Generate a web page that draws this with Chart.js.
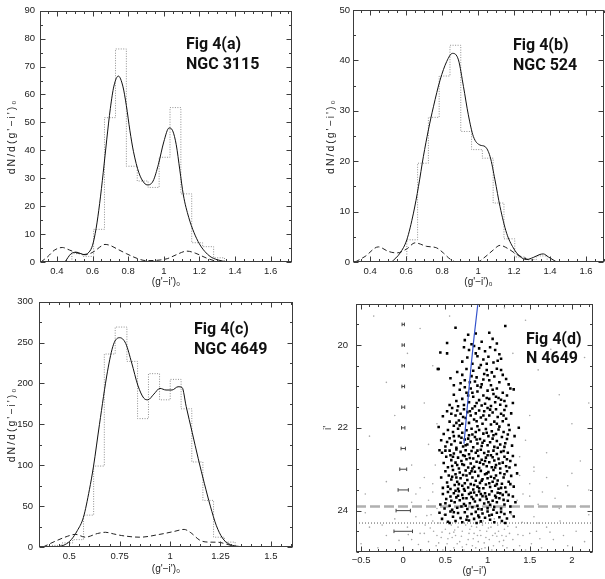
<!DOCTYPE html>
<html>
<head>
<meta charset="utf-8">
<script src="https://cdn.jsdelivr.net/npm/chart.js@4.4.0/dist/chart.umd.min.js"></script>
<style>
  body { margin: 0; background: #fff; }
  canvas { position: absolute; }
</style>
</head>
<body>
<canvas id="pa" width="300" height="290" style="left:0;top:0"></canvas>
<canvas id="pb" width="305" height="290" style="left:300px;top:0"></canvas>
<canvas id="pc" width="300" height="289" style="left:0;top:290px"></canvas>
<canvas id="pd" width="305" height="289" style="left:300px;top:290px"></canvas>
<script>
// ---- Fig 4(a) NGC 3115: histogram (bin edges + counts), smoothed curve, dashed curve
const edgesA = [0.484, 0.545, 0.606, 0.667, 0.729, 0.790, 0.851, 0.912, 0.974, 1.035, 1.096, 1.157, 1.218, 1.280, 1.341];
const histA = [3, 2, 11.7, 51.7, 76.3, 34.3, 29, 26.7, 37.5, 55.3, 24.4, 6.9, 5.5, 1.5];
const solidA = [[0.445,0],[0.48,3.0],[0.51,3.5],[0.55,2.7],[0.58,3.5],[0.60,6],[0.62,12],[0.64,21],[0.66,32],[0.68,44],
  [0.70,55],[0.72,63],[0.745,66.6],[0.77,63],[0.79,56],[0.81,47],[0.83,39.5],[0.86,32],[0.89,28.3],[0.91,27.6],
  [0.94,29],[0.97,35],[1.0,43],[1.03,48],[1.05,47],[1.07,42],[1.09,33],[1.11,24],[1.14,16],[1.17,10.5],
  [1.2,6.5],[1.23,3.8],[1.26,2],[1.3,0.8],[1.36,0]];
const dashA = [[0.31,0],[0.35,2],[0.385,4.2],[0.43,5.2],[0.47,4.3],[0.52,3.1],[0.56,2.6],[0.61,3.8],[0.64,5.3],[0.67,6.3],
  [0.70,5.9],[0.74,4.6],[0.79,3],[0.85,1.3],[0.9,0.5],[0.96,0.6],[1.02,1.2],[1.07,2.6],[1.13,3.9],[1.18,3.1],
  [1.24,1.4],[1.3,0.2],[1.33,0]];

// ---- Fig 4(b) NGC 524
const edgesB = [0.604, 0.664, 0.724, 0.784, 0.844, 0.904, 0.964, 1.024, 1.084, 1.144, 1.204, 1.264, 1.324, 1.384];
const histB = [4.4, 19.6, 28.7, 36.9, 43.0, 25.9, 22.3, 20.6, 11.7, 4.6, 1.0, 0.5, 1.2];
const solidB = [[0.52,0],[0.567,1.8],[0.604,4.4],[0.641,9.7],[0.669,15],[0.696,20.9],[0.724,26.2],[0.752,30.8],[0.789,36.1],
  [0.826,39.8],[0.858,41.4],[0.891,40.1],[0.919,34.8],[0.946,29.2],[0.974,24.9],[1.011,23.2],[1.039,22.9],[1.067,20.9],
  [1.094,16.3],[1.122,11],[1.159,5.7],[1.196,2.8],[1.233,1.1],[1.27,0.5],[1.307,0.9],[1.344,1.5],[1.363,1.6],[1.391,1.0],[1.437,0]];
const dashB = [[0.317,0],[0.372,1.1],[0.446,3.0],[0.502,2.1],[0.548,1.8],[0.604,2.6],[0.65,3.8],[0.715,3.1],[0.77,2.8],
  [0.807,1.8],[0.844,0.6],[0.881,0],[0.993,0],[1.039,1.0],[1.085,2.4],[1.122,3.3],[1.169,2.6],[1.215,1.5],[1.27,0.6],
  [1.307,0.1],[1.326,0]];

// ---- Fig 4(c) NGC 4649
const edgesC = [0.410, 0.464, 0.517, 0.571, 0.621, 0.674, 0.728, 0.786, 0.839, 0.893, 0.948, 1.001, 1.055, 1.108, 1.163, 1.216, 1.270, 1.323];
const histC = [2, 5, 9, 39, 99, 236, 269, 227, 157, 212, 180, 205, 169, 104, 57, 12, 6];
const solidC = [[0.44,0],[0.48,3],[0.51,9],[0.54,20],[0.57,36],[0.60,70],[0.62,98],[0.65,150],[0.69,215],[0.72,248],
  [0.75,256],[0.78,249],[0.81,225],[0.84,198],[0.87,182],[0.89,180],[0.92,187],[0.95,194],[0.98,192],[1.01,192],
  [1.04,196],[1.06,195],[1.08,172],[1.11,140],[1.14,108],[1.17,78],[1.20,50],[1.23,26],[1.26,11],[1.29,4],[1.33,1],[1.38,0]];
const dashC = [[0.37,0],[0.43,7],[0.49,13],[0.53,15.5],[0.58,12],[0.64,16.5],[0.68,18],[0.72,16],[0.76,14],[0.85,12],
  [0.95,15.5],[1.02,19],[1.07,21.5],[1.1,18],[1.15,8],[1.19,6],[1.24,5.8],[1.28,3.5],[1.32,0.8],[1.35,0]];

// ---- Fig 4(d) N 4649 colour-magnitude diagram: [g'-i', i']
const brightGC = [
  [0.62,19.58],[1.21,19.54],[0.77,19.75],[0.86,19.72],[1.02,19.7],[0.52,19.95],[0.73,19.88],[0.93,19.92],[1.06,19.85],[0.81,19.98],[1.11,19.96],
  [0.44,20.18],[0.52,20.2],[0.72,20.05],[0.78,20.12],[0.84,20.02],[0.9,20.08],[0.97,20.15],[1.03,20.05],[1.09,20.12],[1.14,20.22],[0.76,20.3],
  [0.88,20.27],[0.95,20.35],[1.01,20.28],[1.07,20.42],[0.82,20.45],[0.7,20.4],[0.92,20.48],[1.12,20.38],[0.99,20.45],[1.16,20.33],[0.86,20.2],
  [0.42,20.58],[0.56,20.8],[0.64,20.65],[0.7,20.72],[0.75,20.58],[0.79,20.9],[0.83,20.62],[0.87,20.78],[0.9,20.55],[0.93,20.95],[0.96,20.7],
  [0.99,20.6],[1.02,20.85],[1.05,20.66],[1.08,20.76],[1.11,20.57],[1.14,20.9],[1.18,20.72],[1.22,20.82],[0.68,20.92],[0.81,20.75],[0.95,20.83],
  [1.04,20.97],[0.73,20.85],[0.88,20.98],[1.16,20.6],[0.6,20.97],[1.0,20.73],[0.85,20.88],[1.25,20.95],
  [0.55,21.45],[0.6,21.2],[0.63,21.35],[0.67,21.08],[0.7,21.3],[0.72,21.45],[0.75,21.15],[0.78,21.38],[0.8,21.05],[0.83,21.25],[0.85,21.48],
  [0.88,21.12],[0.9,21.33],[0.92,21.02],[0.95,21.22],[0.97,21.42],[1.0,21.1],[1.02,21.3],[1.04,21.47],[1.07,21.18],[1.09,21.38],[1.11,21.05],
  [1.13,21.28],[1.15,21.44],[1.18,21.15],[1.2,21.35],[1.23,21.22],[1.27,21.05],[1.3,21.4],[0.65,21.48],[0.77,21.22],[0.87,21.4],[0.99,21.28],
  [1.06,21.08],[1.16,21.32],[0.73,21.02],[0.93,21.46],[1.22,21.47],[0.82,21.15],[1.1,21.25],
  [0.42,21.98],[0.47,21.72],[0.52,21.6],[0.55,21.85],[0.58,21.52],[0.6,21.95],[0.62,21.7],[0.64,21.58],[0.66,21.82],[0.68,21.66],[0.7,21.9],
  [0.72,21.55],[0.74,21.76],[0.76,21.62],[0.78,21.88],[0.8,21.7],[0.82,21.53],[0.84,21.8],[0.86,21.65],[0.88,21.96],[0.9,21.58],[0.92,21.75],
  [0.94,21.9],[0.96,21.6],[0.98,21.8],[1.0,21.52],[1.02,21.7],[1.04,21.92],[1.06,21.63],[1.08,21.85],[1.1,21.55],[1.12,21.74],[1.14,21.97],
  [1.16,21.66],[1.18,21.84],[1.2,21.57],[1.22,21.78],[1.25,21.93],[1.28,21.65],[1.37,22.0],[0.63,21.88],[0.71,21.74],[0.79,21.6],[0.87,21.84],
  [0.95,21.7],[1.03,21.56],[1.11,21.9],[1.19,21.7],[0.57,21.66],[0.67,21.94],
  [0.45,22.3],[0.48,22.15],[0.5,22.45],[0.53,22.05],[0.55,22.25],[0.57,22.4],[0.59,22.1],[0.61,22.32],[0.63,22.48],[0.65,22.02],[0.66,22.2],
  [0.68,22.36],[0.7,22.12],[0.71,22.45],[0.73,22.28],[0.75,22.06],[0.76,22.4],[0.78,22.18],[0.8,22.33],[0.81,22.02],[0.83,22.47],[0.85,22.22],
  [0.86,22.1],[0.88,22.38],[0.9,22.05],[0.91,22.27],[0.93,22.44],[0.95,22.14],[0.96,22.31],[0.98,22.03],[1.0,22.42],[1.01,22.2],[1.03,22.35],
  [1.05,22.08],[1.06,22.26],[1.08,22.46],[1.1,22.15],[1.11,22.32],[1.13,22.04],[1.15,22.4],[1.17,22.22],[1.19,22.1],[1.21,22.37],[1.23,22.27],
  [1.26,22.05],[1.29,22.43],[1.32,22.2],[0.6,22.2],[0.74,22.42],[0.87,22.28],[0.99,22.12],[1.12,22.48],[1.24,22.16],[0.52,22.34],[0.69,22.24],
  [0.82,22.16],[0.94,22.36],[1.07,22.18],[1.2,22.46],[0.77,22.26],[0.43,22.54],
  [0.46,22.6],[0.48,22.85],[0.51,22.7],[0.53,22.95],[0.55,22.55],[0.57,22.78],[0.58,22.92],[0.6,22.62],[0.62,22.84],[0.63,22.52],[0.65,22.72],
  [0.66,22.98],[0.68,22.58],[0.69,22.8],[0.71,22.66],[0.72,22.9],[0.74,22.54],[0.75,22.76],[0.77,22.96],[0.78,22.64],[0.8,22.86],[0.81,22.56],
  [0.83,22.74],[0.84,22.94],[0.86,22.6],[0.87,22.82],[0.89,22.68],[0.9,22.97],[0.92,22.53],[0.93,22.77],[0.95,22.88],[0.96,22.61],[0.98,22.72],
  [0.99,22.93],[1.01,22.57],[1.02,22.83],[1.04,22.66],[1.05,22.95],[1.07,22.55],[1.08,22.79],[1.1,22.9],[1.11,22.63],[1.13,22.75],[1.15,22.98],
  [1.16,22.58],[1.18,22.84],[1.2,22.7],[1.22,22.93],[1.24,22.6],[1.27,22.8],[1.3,22.68],[1.33,22.9],[0.59,22.7],[0.7,22.88],[0.79,22.73],
  [0.88,22.55],[0.97,22.8],[1.06,22.71],[1.14,22.86],[1.23,22.76],[0.64,22.9],[0.73,22.68],[0.82,22.98],[0.91,22.84],[1.0,22.66],[1.09,22.96],
  [1.19,22.56],[0.5,22.55],[0.56,22.66],[1.26,22.96],
  [0.45,23.2],[0.47,23.45],[0.5,23.05],[0.52,23.32],[0.54,23.15],[0.56,23.48],[0.57,23.25],[0.59,23.02],[0.61,23.38],[0.62,23.12],[0.64,23.3],
  [0.65,23.47],[0.67,23.08],[0.68,23.22],[0.7,23.4],[0.71,23.14],[0.73,23.34],[0.74,23.03],[0.76,23.26],[0.77,23.44],[0.79,23.1],[0.8,23.36],
  [0.82,23.2],[0.83,23.49],[0.85,23.06],[0.86,23.28],[0.88,23.42],[0.89,23.16],[0.91,23.33],[0.92,23.04],[0.94,23.24],[0.95,23.46],[0.97,23.12],
  [0.98,23.37],[1.0,23.22],[1.01,23.07],[1.03,23.43],[1.04,23.18],[1.06,23.3],[1.07,23.02],[1.09,23.4],[1.1,23.15],[1.12,23.27],[1.13,23.47],
  [1.15,23.09],[1.17,23.35],[1.19,23.2],[1.21,23.44],[1.23,23.05],[1.25,23.3],[1.28,23.16],[1.31,23.42],[1.35,23.1],[0.58,23.18],[0.66,23.36],
  [0.75,23.15],[0.84,23.38],[0.93,23.28],[1.02,23.34],[1.11,23.36],[1.2,23.12],[0.53,23.42],[0.63,23.2],[0.72,23.48],[0.81,23.05],[0.9,23.46],
  [0.99,23.1],[1.08,23.22],[1.16,23.45],[1.27,23.36],
  [0.44,23.85],[0.47,23.6],[0.49,23.95],[0.51,23.72],[0.53,23.55],[0.55,23.88],[0.56,23.66],[0.58,23.98],[0.6,23.58],[0.61,23.8],[0.63,23.68],
  [0.64,23.93],[0.66,23.53],[0.67,23.75],[0.69,23.9],[0.7,23.62],[0.72,23.84],[0.73,23.52],[0.75,23.7],[0.76,23.96],[0.78,23.6],[0.79,23.82],
  [0.81,23.67],[0.82,23.92],[0.84,23.56],[0.85,23.78],[0.87,23.63],[0.88,23.88],[0.9,23.54],[0.91,23.74],[0.93,23.97],[0.94,23.65],[0.96,23.83],
  [0.97,23.58],[0.99,23.72],[1.0,23.94],[1.02,23.61],[1.03,23.86],[1.05,23.53],[1.06,23.76],[1.08,23.91],[1.09,23.64],[1.11,23.8],[1.12,23.57],
  [1.14,23.7],[1.16,23.95],[1.18,23.62],[1.2,23.85],[1.22,23.55],[1.24,23.76],[1.27,23.9],[1.3,23.66],[1.33,23.8],[0.57,23.76],[0.65,23.64],
  [0.74,23.88],[0.83,23.72],[0.92,23.6],[1.01,23.8],[1.1,23.68],[1.19,23.74],[0.62,23.52],[0.71,23.7],[0.8,23.57],[0.89,23.96],[0.98,23.66],
  [1.07,23.98],[1.15,23.58],[1.25,23.62],[0.5,23.82],
  [0.43,24.05],[0.46,24.2],[0.5,24.1],[0.53,24.27],[0.56,24.02],[0.59,24.15],[0.62,24.25],[0.65,24.06],[0.68,24.18],[0.7,24.28],[0.73,24.04],
  [0.76,24.14],[0.78,24.24],[0.81,24.08],[0.84,24.2],[0.86,24.03],[0.89,24.12],[0.92,24.26],[0.94,24.07],[0.97,24.17],[1.0,24.02],[1.03,24.22],
  [1.05,24.1],[1.08,24.28],[1.11,24.05],[1.14,24.16],[1.17,24.25],[1.2,24.08],[1.23,24.19],[1.27,24.04],[1.31,24.14],[0.6,24.04],[0.75,24.22],
  [0.9,24.16],[1.02,24.12],[1.16,24.03],[0.55,24.3],[0.87,24.3],[1.21,24.3],[0.41,20.58],[1.31,21.07]
];
const faintSrc = [
  [-0.35,19.3],[0.2,19.6],[1.45,19.4],[1.9,19.8],[2.15,20.3],[0.35,20.5],[-0.2,20.9],[1.6,20.6],[1.85,21.2],[0.25,21.4],
  [1.5,21.7],[2.0,21.9],[-0.4,22.2],[0.3,22.4],[1.45,22.3],[1.7,22.6],[2.1,22.8],[0.1,22.9],[0.38,22.9],[1.38,22.7],
  [-0.1,21.7],[0.55,19.3],[1.2,19.1],[1.75,20.1],[2.2,21.4],[0.05,20.2],[1.3,20.2],[0.4,21.9],[1.55,22.95],
  [-0.45,23.6],[-0.2,23.3],[0.1,23.8],[0.25,23.2],[0.35,23.55],[0.4,23.95],[1.38,23.15],[1.42,23.6],[1.5,23.35],[1.6,23.85],
  [1.7,23.2],[1.8,23.7],[1.95,23.4],[2.1,23.9],[2.2,23.5],[0.3,23.75],[1.55,23.05],[1.45,23.9],[0.2,23.45],[1.65,23.55],[2.0,23.1],
  [-0.5,24.8],[-0.4,24.4],[-0.3,24.9],[-0.2,24.6],[-0.1,24.2],[0.0,24.9],[0.05,24.4],[0.1,24.7],[0.15,24.15],[0.2,24.55],
  [0.22,24.95],[0.26,24.35],[0.3,24.75],[0.33,24.1],[0.36,24.5],[0.39,24.85],[0.42,24.3],[0.45,24.65],[0.47,24.95],[0.5,24.45],
  [0.52,24.8],[0.55,24.55],[0.57,24.35],[0.6,24.9],[0.62,24.6],[0.65,24.4],[0.67,24.75],[0.7,24.5],[0.72,24.95],[0.74,24.35],
  [0.77,24.7],[0.79,24.45],[0.82,24.85],[0.84,24.55],[0.87,24.4],[0.89,24.75],[0.92,24.6],[0.94,24.35],[0.97,24.9],[0.99,24.5],
  [1.02,24.7],[1.04,24.4],[1.07,24.85],[1.09,24.55],[1.12,24.35],[1.14,24.75],[1.17,24.6],[1.2,24.45],[1.23,24.9],[1.26,24.55],
  [1.3,24.7],[1.34,24.4],[1.38,24.85],[1.42,24.6],[1.47,24.3],[1.52,24.8],[1.58,24.5],[1.64,24.9],[1.7,24.4],[1.78,24.7],
  [1.86,24.25],[1.95,24.85],[2.05,24.5],[2.15,24.75],[0.48,24.1],[0.68,24.2],[0.88,24.15],[1.08,24.2],[1.28,24.1],[0.58,24.65],
  [0.78,24.55],[0.98,24.65],[1.18,24.85],[0.4,24.6],[0.64,24.8],[0.86,24.9],[1.06,24.6],[1.32,24.95],[0.25,24.55],[0.12,24.95],
  [1.55,24.15],[1.9,24.6],[2.2,24.1],[-0.45,24.05],[0.35,24.25],[0.95,24.25],[1.15,24.15],[1.45,24.95],
  [0.32,24.42],[0.46,24.52],[0.53,24.68],[0.61,24.47],[0.69,24.62],[0.75,24.82],[0.81,24.38],[0.91,24.48],[0.96,24.78],[1.01,24.42],
  [1.11,24.62],[1.19,24.72],[1.24,24.38],[1.36,24.58],[1.41,24.28],[1.5,24.55],[1.62,24.68],[1.74,24.52],[0.18,24.82],[0.06,24.58],
  [-0.05,24.72],[-0.25,24.35],[0.28,24.98],[0.56,24.97],[0.83,24.68],[1.05,24.95],[1.22,24.62],[0.42,24.78],[0.7,24.88],[0.93,24.92],
  [1.5,23.65],[1.35,23.75],[0.35,23.35],[0.28,24.12],[1.6,24.3],[0.15,23.6],[1.85,23.95],[0.6,24.52],[1.13,24.5],[0.88,24.6]
];
const fitLine = [[0.72,22.38],[0.755,21.6],[0.80,20.6],[0.84,19.8],[0.885,19.0]];
const errMag = [19.5, 20, 20.5, 21, 21.5, 22, 22.5, 23, 23.5, 24, 24.5];
const errHalf = [0.014, 0.014, 0.015, 0.016, 0.018, 0.02, 0.026, 0.041, 0.061, 0.085, 0.11];
const limitDashed = 23.9;
const limitDotted = 24.3;

// axis ranges and tick labels
const xRangeA = [0.305, 1.72], xRangeB = [0.305, 1.7], xRangeC = [0.35, 1.61], xRangeD = [-0.56, 2.25];
const xLabelsAB = [0.4, 0.6, 0.8, 1, 1.2, 1.4, 1.6];
const xLabelsC = [0.5, 0.75, 1, 1.25, 1.5];
const xLabelsD = [-0.5, 0, 0.5, 1, 1.5, 2];
const yLabelsA = [0, 10, 20, 30, 40, 50, 60, 70, 80, 90];
const yLabelsB = [0, 10, 20, 30, 40, 50];
const yLabelsC = [0, 50, 100, 150, 200, 250, 300];
const yLabelsD = [20, 22, 24];

const tickFont = { family: 'Liberation Sans', size: 9.5 };
const toXY = arr => arr.map(([x, y]) => ({ x, y }));
const fmt = v => String(+v.toFixed(2)).replace('-', '\u2212');

function stepPoints(edges, values) {
  const pts = [{ x: edges[0], y: 0 }];
  values.forEach((v, i) => pts.push({ x: edges[i], y: v }));
  pts.push({ x: edges[edges.length - 1], y: 0 });
  return pts;
}

function multiples(min, max, step) {
  const out = [];
  for (let k = Math.ceil(min / step - 1e-6); k * step <= max + 1e-6; k++) out.push(k * step);
  return out;
}
const isMult = (v, step) => Math.abs(v / step - Math.round(v / step)) < 1e-6;

// box, inward ticks on all four sides, panel tags and axis titles
const framePlugin = {
  id: 'frame',
  afterDraw(chart, args, o) {
    const { ctx, chartArea: a, scales: { x, y } } = chart;
    ctx.save();
    ctx.strokeStyle = '#3c3c3c';
    ctx.lineWidth = 1;
    const L = Math.round(a.left) + 0.5, R = Math.round(a.right) - 0.5;
    const T = Math.round(a.top) + 0.5, B = Math.round(a.bottom) - 0.5;
    ctx.strokeRect(L, T, R - L, B - T);
    ctx.beginPath();
    multiples(x.min, x.max, o.xMinor).forEach(v => {
      const px = Math.round(x.getPixelForValue(v)) + 0.5;
      const len = isMult(v, o.xMajor) ? 5 : 2.5;
      ctx.moveTo(px, B); ctx.lineTo(px, B - len);
      ctx.moveTo(px, T); ctx.lineTo(px, T + len);
    });
    multiples(Math.min(y.min, y.max), Math.max(y.min, y.max), o.yMinor).forEach(v => {
      const py = Math.round(y.getPixelForValue(v)) + 0.5;
      const len = isMult(v, o.yMajor) ? 5 : 2.5;
      ctx.moveTo(L, py); ctx.lineTo(L + len, py);
      ctx.moveTo(R, py); ctx.lineTo(R - len, py);
    });
    ctx.stroke();

    ctx.fillStyle = '#111';
    ctx.font = 'bold 16px Roboto';
    ctx.textAlign = 'left';
    ctx.textBaseline = 'alphabetic';
    o.tags.forEach(t => ctx.fillText(t[0], t[1], t[2]));

    ctx.fillStyle = '#222';
    ctx.font = '10px "Liberation Sans"';
    ctx.textAlign = 'center';
    ctx.textBaseline = 'middle';
    ctx.fillText(o.xTitle, (a.left + a.right) / 2, o.xTitleY);
    ctx.translate(o.yTitleX, (a.top + a.bottom) / 2);
    ctx.rotate(-Math.PI / 2);
    ctx.font = '10.5px "Liberation Sans"';
    ctx.letterSpacing = o.ySpacing + 'px';
    ctx.fillText(o.yTitle, 0, 0);
    ctx.restore();
  }
};
Chart.register(framePlugin);

function options(p) {
  return {
    responsive: false,
    animation: false,
    devicePixelRatio: 1,
    layout: { padding: { top: p.padT, right: p.padR, bottom: 0, left: 0 } },
    plugins: { legend: { display: false }, tooltip: { enabled: false }, frame: p.frame },
    scales: {
      x: {
        type: 'linear', min: p.xRange[0], max: p.xRange[1],
        afterBuildTicks: s => { s.ticks = p.xLabels.map(v => ({ value: v })); },
        afterFit: s => { s.height = p.xH; },
        grid: { display: false, drawTicks: false }, border: { display: false },
        ticks: { font: tickFont, color: '#222', padding: p.xPad, maxRotation: 0, autoSkip: false, callback: fmt }
      },
      y: {
        type: 'linear', min: p.yRange[0], max: p.yRange[1], reverse: !!p.reverse,
        afterBuildTicks: s => { s.ticks = p.yLabels.map(v => ({ value: v })); },
        afterFit: s => { s.width = p.yW; },
        grid: { display: false, drawTicks: false }, border: { display: false },
        ticks: { font: tickFont, color: '#222', padding: p.yPad, autoSkip: false, callback: fmt }
      }
    }
  };
}

function lfDatasets(solid, dash, edges, hist) {
  return [
    { data: toXY(solid), showLine: true, borderColor: '#111', borderWidth: 1, pointRadius: 0, cubicInterpolationMode: 'monotone' },
    { data: toXY(dash), showLine: true, borderColor: '#222', borderWidth: 1, borderDash: [5, 3], pointRadius: 0, cubicInterpolationMode: 'monotone' },
    { data: stepPoints(edges, hist), showLine: true, stepped: true, borderColor: '#8f8f8f', borderWidth: 1, borderDash: [1, 1.5], pointRadius: 0 }
  ];
}

const histTitle = 'dN/d(g\'\u2212i\')\u2080';
const colTitle = '(g\'\u2212i\')\u2080';

new Chart(document.getElementById('pa'), {
  type: 'scatter',
  data: { datasets: lfDatasets(solidA, dashA, edgesA, histA) },
  options: options({
    padT: 10, padR: 8, xH: 28, yW: 40, xPad: 3.5, yPad: 5,
    xRange: xRangeA, yRange: [0, 90], xLabels: xLabelsAB, yLabels: yLabelsA,
    frame: { xMinor: 0.05, xMajor: 0.2, yMinor: 5, yMajor: 10, xTitle: colTitle, xTitleY: 282.5, yTitle: histTitle, yTitleX: 12, ySpacing: 2,
      tags: [['Fig 4(a)', 186, 48.5], ['NGC 3115', 186, 68.5]] }
  })
});

new Chart(document.getElementById('pb'), {
  type: 'scatter',
  data: { datasets: lfDatasets(solidB, dashB, edgesB, histB) },
  options: options({
    padT: 10, padR: 1, xH: 28, yW: 53, xPad: 3.5, yPad: 3,
    xRange: xRangeB, yRange: [0, 50], xLabels: xLabelsAB, yLabels: yLabelsB,
    frame: { xMinor: 0.05, xMajor: 0.2, yMinor: 5, yMajor: 10, xTitle: colTitle, xTitleY: 282.5, yTitle: histTitle, yTitleX: 31.5, ySpacing: 2,
      tags: [['Fig 4(b)', 213, 50], ['NGC 524', 213, 70]] }
  })
});

new Chart(document.getElementById('pc'), {
  type: 'scatter',
  data: { datasets: lfDatasets(solidC, dashC, edgesC, histC) },
  options: options({
    padT: 5, padR: 7, xH: 32, yW: 39, xPad: 4, yPad: 6,
    xRange: xRangeC, yRange: [0, 300], xLabels: xLabelsC, yLabels: yLabelsC,
    frame: { xMinor: 0.05, xMajor: 0.25, yMinor: 25, yMajor: 50, xTitle: colTitle, xTitleY: 279, yTitle: histTitle, yTitleX: 11.7, ySpacing: 2,
      tags: [['Fig 4(c)', 194, 44], ['NGC 4649', 194, 64]] }
  })
});

const errBars = [];
errMag.forEach((m, i) => {
  errBars.push({ x: -errHalf[i], y: m }, { x: errHalf[i], y: m }, { x: 0, y: null });
});

new Chart(document.getElementById('pd'), {
  type: 'scatter',
  data: {
    datasets: [
      { data: toXY(fitLine), showLine: true, borderColor: '#3352cc', borderWidth: 1.2, pointRadius: 0 },
      { data: toXY(brightGC), pointStyle: 'rect', pointRadius: 1.8, backgroundColor: '#000', borderWidth: 0 },
      { data: errBars, showLine: true, spanGaps: false, borderColor: '#444', borderWidth: 1, pointStyle: 'line', rotation: 90, pointRadius: 1.8, pointBorderColor: '#444', pointBorderWidth: 1 },
      { data: [{ x: xRangeD[0], y: limitDotted }, { x: xRangeD[1], y: limitDotted }], showLine: true, borderColor: '#555', borderWidth: 1, borderDash: [1, 2], pointRadius: 0 },
      { data: [{ x: xRangeD[0], y: limitDashed }, { x: xRangeD[1], y: limitDashed }], showLine: true, borderColor: '#b0b0b0', borderWidth: 2.5, borderDash: [10, 4], pointRadius: 0 },
      { data: toXY(faintSrc), pointRadius: 0.8, backgroundColor: '#a6a6a6', borderWidth: 0 }
    ]
  },
  options: options({
    padT: 5, padR: 12, xH: 27, yW: 56, xPad: 2.5, yPad: 8, reverse: true,
    xRange: xRangeD, yRange: [19, 25], xLabels: xLabelsD, yLabels: yLabelsD,
    frame: { xMinor: 0.1, xMajor: 0.5, yMinor: 0.5, yMajor: 2, xTitle: '(g\'\u2212i\')', xTitleY: 281.5, yTitle: 'i\'', yTitleX: 28, ySpacing: 0,
      tags: [['Fig 4(d)', 226, 54], ['N 4649', 226, 73]] }
  })
});
</script>
</body>
</html>
